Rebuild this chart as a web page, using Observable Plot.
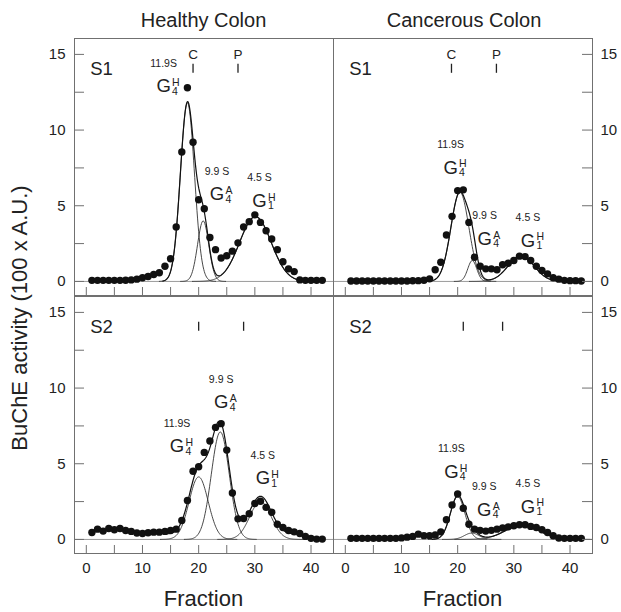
<!DOCTYPE html>
<html><head><meta charset="utf-8">
<script src="https://cdn.jsdelivr.net/npm/d3@7"></script>
<script src="https://cdn.jsdelivr.net/npm/@observablehq/plot@0.6"></script>
<style>
body{margin:0;background:#fff;}
#chart{position:relative;width:621px;height:612px;font-family:"Liberation Sans",Arial,sans-serif;color:#222;overflow:hidden;}
#chart svg{position:absolute;overflow:visible;}
.lbl{position:absolute;white-space:nowrap;}
</style></head><body><div id="chart"></div>
<script>
// ---------- data ----------
const fractions = [1,2,3,4,5,6,7,8,9,10,11,12,13,14,15,16,17,18,19,20,21,22,23,24,25,26,27,28,29,30,31,32,33,34,35,36,37,38,39,40,41,42];
const healthyS1 = [0.07,0.07,0.07,0.07,0.07,0.07,0.08,0.1,0.15,0.24,0.33,0.46,0.57,1.0,1.5,3.6,8.55,12.8,9.2,5.4,4.8,2.9,2.1,1.55,1.7,2.0,2.55,3.6,3.95,4.4,3.9,3.35,2.8,2.1,1.3,0.83,0.65,0.1,0.07,0.07,0.07,0.07];
const healthyS2 = [0.46,0.68,0.55,0.72,0.64,0.72,0.59,0.53,0.42,0.39,0.44,0.48,0.48,0.53,0.59,0.68,1.25,2.57,4.5,4.8,5.75,6.5,7.4,7.65,5.9,3.07,1.36,1.38,1.7,2.37,2.52,2.12,1.8,1.0,0.79,0.59,0.5,0.39,0.2,0.07,0.02,0.02];
const cancerS1 = [0.03,0.03,0.03,0.03,0.03,0.03,0.03,0.03,0.03,0.03,0.03,0.04,0.05,0.08,0.17,0.77,1.27,3.07,4.3,6.0,6.05,3.9,1.6,1.0,0.83,0.83,0.77,1.1,1.2,1.38,1.67,1.64,1.38,1.0,0.72,0.5,0.24,0.15,0.07,0.05,0.05,0.03];
const cancerS2 = [0.07,0.07,0.07,0.07,0.07,0.07,0.07,0.07,0.07,0.1,0.15,0.2,0.35,0.25,0.25,0.3,0.5,1.3,2.28,3.0,2.06,1.0,0.68,0.6,0.55,0.6,0.68,0.75,0.83,0.9,0.97,0.97,0.86,0.79,0.64,0.46,0.24,0.09,0.07,0.07,0.07,0.07];

// Gaussian components: [centre fraction, height, width (sigma)]
const forms = ["G4H", "G4A", "G1H"];
const formLetterSup = ["H", "A", "H"];
const formLetterSub = ["4", "4", "1"];
const sedimentation = ["11.9S", "9.9 S", "4.5 S"];
const healthyS1Fit = [[18.0, 11.8, 1.25], [20.8, 4.0, 1.0], [30.1, 4.28, 2.8]];
const healthyS2Fit = [[20.0, 4.13, 1.7], [23.85, 7.1, 1.6], [31.0, 2.5, 1.9]];
const cancerS1Fit  = [[20.4, 5.9, 1.6], [22.6, 1.38, 0.8], [31.3, 1.7, 2.3]];
const cancerS2Fit  = [[20.0, 2.83, 1.3], [22.5, 0.42, 1.3], [31.5, 0.95, 3.0]];
const healthyS1Base = 0, healthyS2Base = 0.35, cancerS1Base = 0, cancerS2Base = 0;

// label anchors [fraction, activity] for G4H, G4A, G1H
const healthyS1LabelAt = [[13.76, 12.88], [23.27, 5.76], [30.83, 5.32]];
const healthyS2LabelAt = [[16.14, 6.14], [24.0, 9.05], [31.42, 4.03]];
const cancerS1LabelAt  = [[18.74, 7.51], [24.8, 2.8], [32.5, 2.69]];
const cancerS2LabelAt  = [[18.88, 4.46], [24.73, 1.94], [32.5, 2.16]];

// marker fractions (C, P)
const markerLetters = ["C", "P"];
const healthyS1Markers = [19.0, 27.0];
const cancerS1Markers  = [18.9, 26.9];
const healthyS2Markers = [20.0, 28.0];
const cancerS2Markers  = [21.0, 28.0];

const panelTitles = ["Healthy Colon", "Cancerous Colon"];
const sampleTags = ["S1", "S2"];
const xTicks = [0,5,10,15,20,25,30,35,40];
const xTickLabels = [0,10,20,30,40];
const yTicks = [0,2.5,5,7.5,10,12.5,15];
const yTickLabels = [0,5,10,15];
const yTitle = "BuChE activity (100 x A.U.)";
const xTitle = "Fraction";

// ---------- drawing ----------
const FONT = "Liberation Sans, Arial, Helvetica, sans-serif";
const INK = "#222", AXIS = "#707070";
const W = 259, H = 257;
const X_DOMAIN = [-2.1, 44], Y_DOMAIN = [-0.93, 16.05];
const MARKER_Y = 14.05, LETTER_Y = 15.0, TAG_X = 0.7, TAG_Y = 14.0;

const gauss = (c, a, s) => f => a * Math.exp(-((f - c) ** 2) / (2 * s * s));

function fitCurves(fit, base) {
  const comps = [];
  fit.forEach(([c, a, s], k) => {
    const g = gauss(c, a, s);
    for (let f = c - 4 * s; f <= c + 4 * s + 1e-9; f += 0.1) comps.push({f, v: g(f), k});
  });
  const lo = d3.min(fit, d => d[0] - 3.5 * d[2]), hi = d3.max(fit, d => d[0] + 3.5 * d[2]);
  const sum = [];
  for (let f = lo; f <= hi + 1e-9; f += 0.1) sum.push({f, v: base + d3.sum(fit, ([c, a, s]) => gauss(c, a, s)(f))});
  return {comps, sum};
}

function panel({values, fit, base, labelAt, markers, letters, tag, side, bottom, left, top}) {
  const mL = side === "left" ? 74 : 1, mR = side === "right" ? 29 : 1;
  const mT = bottom ? 1 : 38, mB = bottom ? 58 : 1;
  const pts = fractions.map((f, i) => ({f, v: values[i]}));
  const {comps, sum} = fitCurves(fit, base);
  const labels = labelAt.map(([x, y], i) => ({x, y, sup: formLetterSup[i], sub: formLetterSub[i], s: sedimentation[i]}));
  const mk = markers.map((f, i) => ({f, letter: letters ? letters[i] : ""}));
  const marks = [
    Plot.ruleY([0], {stroke: "#9a9a9a", strokeWidth: 1}),
    Plot.line(comps, {x: "f", y: "v", z: "k", stroke: "#333", strokeWidth: 0.9}),
    Plot.line(sum, {x: "f", y: "v", stroke: "#111", strokeWidth: 1.2}),
    Plot.dot(pts, {x: "f", y: "v", r: 3.7, fill: "#111"}),
    Plot.frame({stroke: AXIS, strokeWidth: 1}),
    Plot.tickY(yTicks, {y: d => d, stroke: AXIS, ...(side === "left" ? {insetRight: W - 10} : {insetLeft: W - 10})}),
    Plot.tickX(xTicks, {x: d => d, stroke: AXIS, insetTop: H - 8}),
    Plot.text(yTickLabels, {y: d => d, text: d => String(d), frameAnchor: side, dx: side === "left" ? -9 : 8,
      textAnchor: side === "left" ? "end" : "start", fontSize: 15, fill: INK}),
    Plot.text([tag], {x: () => TAG_X, y: () => TAG_Y, text: d => d, textAnchor: "start", fontSize: 18.5, fill: INK}),
    Plot.ruleX(mk, {x: "f", y1: () => MARKER_Y - 0.3, y2: () => MARKER_Y + 0.3, stroke: INK, strokeWidth: 1.3}),
    Plot.text(mk, {x: "f", y: () => LETTER_Y, text: "letter", fontSize: 13.5, fill: INK}),
    Plot.text(labels, {x: "x", y: "y", text: () => "G", fontSize: 18.5, fill: INK}),
    Plot.text(labels, {x: "x", y: "y", text: "sup", fontSize: 10.5, dx: 8.5, dy: -3.7, textAnchor: "start", fill: INK}),
    Plot.text(labels, {x: "x", y: "y", text: "sub", fontSize: 10.5, dx: 8.5, dy: 5, textAnchor: "start", fill: INK}),
    Plot.text(labels, {x: "x", y: "y", text: "s", fontSize: 10.5, dy: -23, fill: INK})
  ];
  if (bottom) marks.push(Plot.text(xTickLabels, {x: d => d, text: d => String(d), frameAnchor: "bottom", dy: 19.5, fontSize: 15, fill: INK}));
  const svg = Plot.plot({
    width: W + mL + mR, height: H + mT + mB,
    marginLeft: mL, marginRight: mR, marginTop: mT, marginBottom: mB,
    x: {domain: X_DOMAIN, axis: null}, y: {domain: Y_DOMAIN, axis: null},
    style: {fontFamily: FONT, fontSize: "15px", background: "transparent", color: INK, overflow: "visible"},
    marks
  });
  svg.style.left = (left - mL) + "px";
  svg.style.top = (top - mT) + "px";
  return svg;
}

const chart = document.getElementById("chart");
chart.append(
  panel({values: healthyS1, fit: healthyS1Fit, base: healthyS1Base, labelAt: healthyS1LabelAt, markers: healthyS1Markers, letters: markerLetters, tag: sampleTags[0], side: "left", bottom: false, left: 74, top: 38}),
  panel({values: cancerS1, fit: cancerS1Fit, base: cancerS1Base, labelAt: cancerS1LabelAt, markers: cancerS1Markers, letters: markerLetters, tag: sampleTags[0], side: "right", bottom: false, left: 333, top: 38}),
  panel({values: healthyS2, fit: healthyS2Fit, base: healthyS2Base, labelAt: healthyS2LabelAt, markers: healthyS2Markers, letters: null, tag: sampleTags[1], side: "left", bottom: true, left: 74, top: 296}),
  panel({values: cancerS2, fit: cancerS2Fit, base: cancerS2Base, labelAt: cancerS2LabelAt, markers: cancerS2Markers, letters: null, tag: sampleTags[1], side: "right", bottom: true, left: 333, top: 296})
);

function addLabel(text, cx, baseline, fs, rotate) {
  const d = document.createElement("div");
  d.className = "lbl";
  d.textContent = text;
  d.style.fontSize = fs + "px";
  d.style.lineHeight = fs + "px";
  if (rotate) {
    d.style.left = cx + "px";
    d.style.top = baseline + "px";
    d.style.transform = "translate(-50%,-50%) rotate(-90deg)";
  } else {
    d.style.left = cx + "px";
    d.style.top = (baseline - 0.8465 * fs) + "px";
    d.style.transform = "translateX(-50%)";
  }
  chart.append(d);
}
addLabel(panelTitles[0], 203.5, 26.7, 20);
addLabel(panelTitles[1], 464, 26.7, 20);
addLabel(xTitle, 203.5, 607, 22);
addLabel(xTitle, 462.5, 607, 22);
addLabel(yTitle, 20, 318, 22, true);
</script></body></html>
